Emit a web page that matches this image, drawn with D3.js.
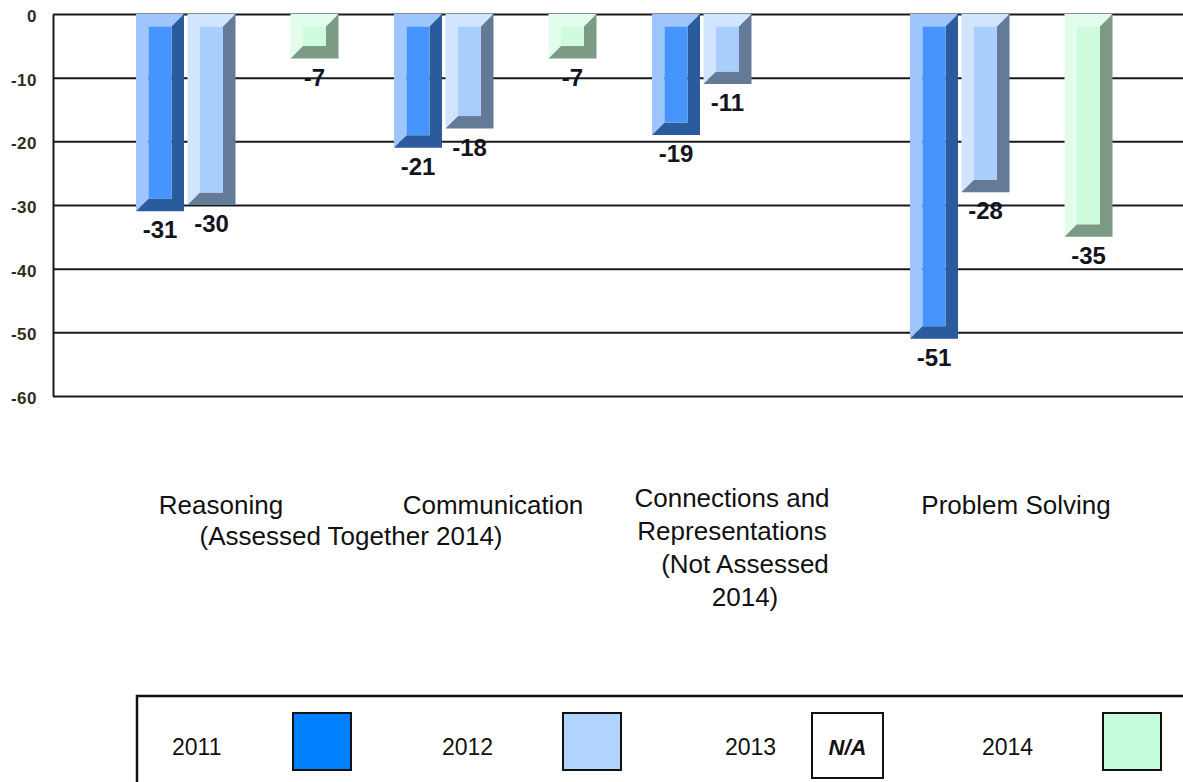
<!DOCTYPE html>
<html>
<head>
<meta charset="utf-8">
<script src="https://cdnjs.cloudflare.com/ajax/libs/d3/7.8.5/d3.min.js"></script>
<style>
  body { margin: 0; background: #fff; }
  svg { display: block; font-family: "Liberation Sans", Arial, sans-serif; }
</style>
</head>
<body>
<div id="canvas-svg"></div>
<script>

var categories = ["Reasoning", "Communication", "Connections and Representations", "Problem Solving"];
var years = ["2011", "2012", "2013", "2014"];

// one array per year, one value per category (null = not assessed)
var values2011 = [-31, -21, -19, -51];
var values2012 = [-30, -18, -11, -28];
var values2013 = [null, null, null, null];
var values2014 = [-7, -7, null, -35];

var yTicks = [0, -10, -20, -30, -40, -50, -60];

var categoryLines = [["Reasoning"], ["Communication"],
  ["Connections and", "Representations", "(Not Assessed", "2014)"], ["Problem Solving"]];
var sharedNote = "(Assessed Together 2014)";

var width = 1183, height = 782;
var axisX = 53;

var series = [
  {year: "2011", values: values2011, light: "#9ec6fc", front: "#4595fd", dark: "#2a5b9c", swatch: "#0080ff"},
  {year: "2012", values: values2012, light: "#d2e5fe", front: "#a9cdfc", dark: "#657a96", swatch: "#b0d4ff"},
  {year: "2013", values: values2013, light: null, front: null, dark: null, swatch: null},
  {year: "2014", values: values2014, light: "#e2fdec", front: "#cdfbdc", dark: "#7c9a86", swatch: "#c4fcdc"}
];

var svg = d3.select("#canvas-svg").append("svg")
    .attr("width", width)
    .attr("height", height);

var y = d3.scaleLinear().domain([-60, 0]).range([396, 14]);

var x0 = d3.scaleBand().domain(categories).range([110, 1142]).padding(0);
var x1 = d3.scaleBand().domain(years).range([26, 228.5]).paddingInner(0.068).paddingOuter(0);

// grid + axis
var yAxis = svg.append("g")
  .attr("transform", "translate(" + axisX + ",0)")
  .call(d3.axisLeft(y).tickValues(yTicks).tickSize(-(width - axisX)).tickSizeOuter(0)
    .tickPadding(16).tickFormat(function(d){ return String(d); }));

yAxis.select(".domain").attr("stroke", "#1a1a1a").attr("stroke-width", 2);
yAxis.selectAll(".tick line").attr("stroke", "#1a1a1a").attr("stroke-width", 2);
yAxis.selectAll(".tick text")
  .attr("dy", "0.45em")
  .style("font-size", "17px")
  .style("font-weight", "bold")
  .style("letter-spacing", "0.5px")
  .style("font-family", "'Liberation Sans', Arial, sans-serif")
  .style("fill", "#332c22");

// bars
var bars = [];
series.forEach(function(s){
  s.values.forEach(function(v, i){
    if (v == null) return;
    bars.push({cat: categories[i], year: s.year, value: v, s: s});
  });
});

var b = 12.5;
var barG = svg.append("g").selectAll("g").data(bars).enter().append("g")
  .attr("transform", function(d){ return "translate(" + (x0(d.cat) + x1(d.year)) + ",0)"; });

barG.each(function(d){
  var g = d3.select(this);
  var w = x1.bandwidth();
  var top = y(0), bot = y(d.value);
  var pts = function(a){ return a.map(function(p){ return p.join(","); }).join(" "); };
  g.append("polygon")
    .attr("points", pts([[0, top], [w, top], [w - b, top + b], [b, top + b], [b, bot - b], [0, bot]]))
    .style("fill", d.s.light);
  g.append("polygon")
    .attr("points", pts([[w, top], [w, bot], [0, bot], [b, bot - b], [w - b, bot - b], [w - b, top + b]]))
    .style("fill", d.s.dark);
  g.append("rect")
    .attr("x", b).attr("y", top + b)
    .attr("width", w - 2 * b).attr("height", Math.max(0, bot - top - 2 * b))
    .style("fill", d.s.front);
});

// value labels
svg.append("g").selectAll("text").data(bars).enter().append("text")
  .attr("x", function(d){ return x0(d.cat) + x1(d.year) + x1.bandwidth() / 2; })
  .attr("y", function(d){ return y(d.value) + 27; })
  .attr("text-anchor", "middle")
  .style("font-size", "24px")
  .style("font-weight", "bold")
  .style("fill", "#141420")
  .text(function(d){ return String(d.value); });

// category labels
var labelDx = [-18, -4, -23, 3];
var catG = svg.append("g").selectAll("text").data(categories).enter().append("text")
  .attr("text-anchor", "middle")
  .style("font-size", "26px")
  .style("fill", "#111")
  .attr("transform", function(d, i){
    var c = x0(d) + x0.bandwidth() / 2 + labelDx[i];
    var ty = categoryLines[i].length > 1 ? 507 : 514;
    return "translate(" + c + "," + ty + ")";
  });

catG.selectAll("tspan").data(function(d, i){ return categoryLines[i]; }).enter().append("tspan")
  .attr("x", function(d, j){ return j >= 2 ? 13 : 0; })
  .attr("y", function(d, j){ return j * 33; })
  .text(function(d){ return d; });

svg.append("text")
  .attr("x", (x0(categories[0]) + x0(categories[1]) + x0.bandwidth()) / 2 - 17)
  .attr("y", 545)
  .attr("text-anchor", "middle")
  .style("font-size", "26px")
  .style("fill", "#111")
  .text(sharedNote);

// legend
svg.append("rect")
  .attr("x", 137).attr("y", 696)
  .attr("width", 1120).attr("height", 140)
  .style("fill", "none")
  .style("stroke", "#111")
  .style("stroke-width", 2.5);

var lx = d3.scaleBand().domain(years).range([137, 1217]);

var legendItem = svg.append("g").selectAll("g").data(series).enter().append("g")
  .attr("transform", function(d){ return "translate(" + lx(d.year) + ",0)"; });

legendItem.append("text")
  .attr("x", function(d){ return d.swatch ? 35 : 48; })
  .attr("y", 755)
  .style("font-size", "23px")
  .style("fill", "#111")
  .text(function(d){ return d.year; });

legendItem.append("rect")
  .attr("x", function(d){ return d.swatch ? 156 : 135; })
  .attr("y", 713)
  .attr("width", function(d){ return d.swatch ? 58 : 71; })
  .attr("height", function(d){ return d.swatch ? 57 : 65; })
  .style("fill", function(d){ return d.swatch || "#fff"; })
  .style("stroke", "#111")
  .style("stroke-width", 2);

legendItem.filter(function(d){ return !d.swatch; }).append("text")
  .attr("x", 135 + 35.5)
  .attr("y", 755)
  .attr("text-anchor", "middle")
  .style("font-size", "22px")
  .style("font-weight", "bold")
  .style("font-style", "italic")
  .style("fill", "#111")
  .text("N/A");

</script>
</body>
</html>
